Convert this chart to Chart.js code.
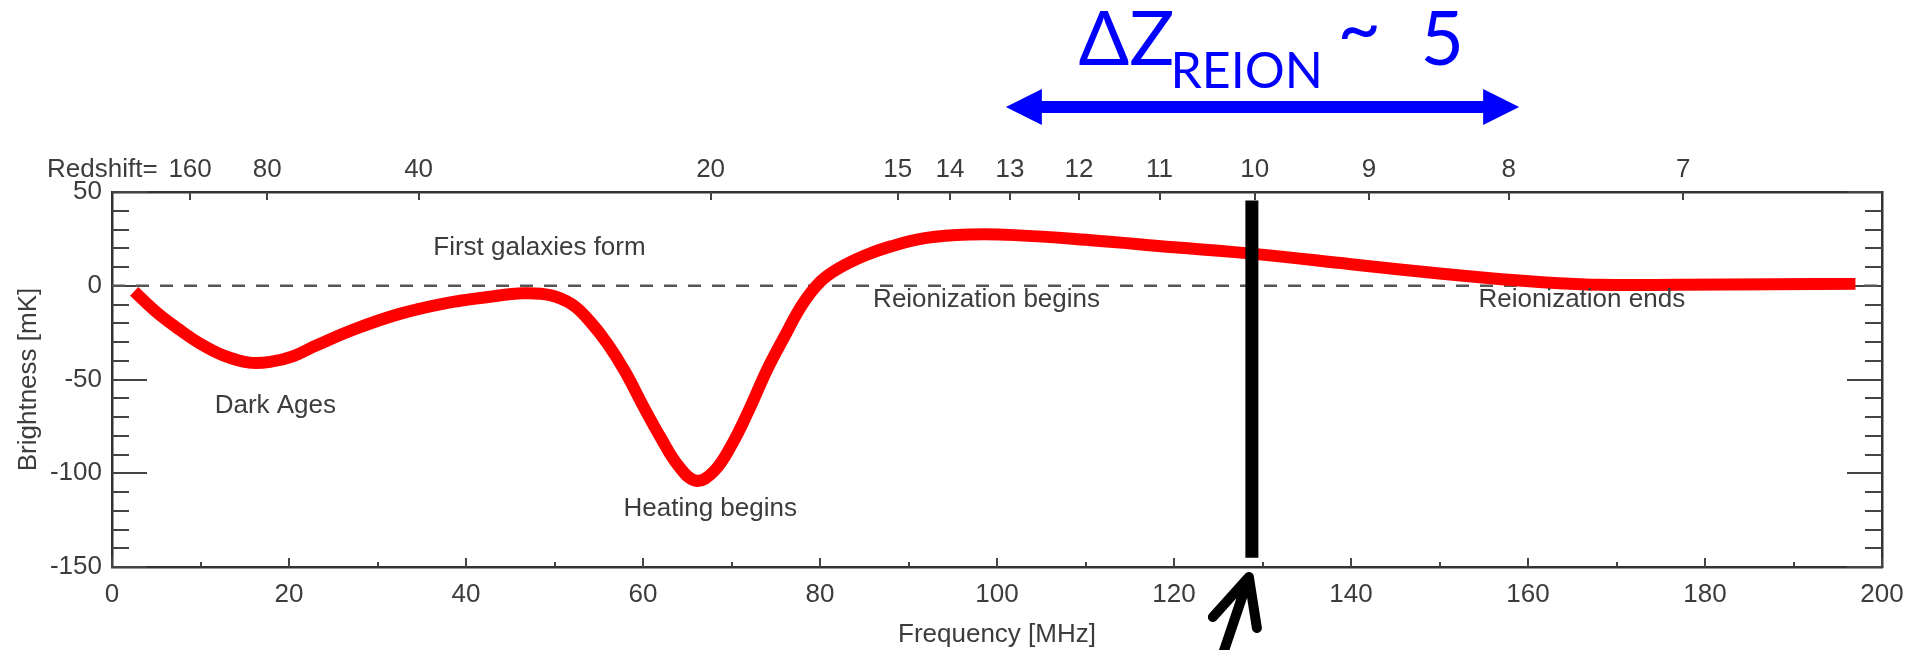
<!DOCTYPE html>
<html>
<head>
<meta charset="utf-8">
<script src="https://cdn.jsdelivr.net/npm/chart.js@4.4.1/dist/chart.umd.min.js"></script>
<style>
  html, body { margin: 0; padding: 0; background: #fff; }
</style>
</head>
<body>
<canvas id="chart" width="1922" height="650"></canvas>
<script>
// 21-cm global signal
const freqMHz = [2.5, 5, 7.5, 10, 12.5, 15.5, 18, 20.5, 23, 27.5, 32.5, 37.5, 42.5, 46.5, 49.5, 52, 54, 56, 58, 60, 62, 64, 66, 68, 70, 72, 74, 76, 78, 80, 82, 85, 88, 92, 97, 102, 110, 120, 129, 140, 150, 157, 163, 168, 177, 188, 197];
const brightness = [-3, -14, -23, -31, -37, -41, -40.5, -37.5, -32, -23, -15, -9.5, -6, -4, -5, -10, -19, -31, -46, -64, -81, -96, -104, -99, -85, -66, -45, -27, -10, 2, 9, 16, 21, 25.5, 27.3, 27, 24.5, 20.5, 17, 11.5, 6.5, 3.5, 1.5, 0.5, 0.5, 0.8, 1];

// top axis labels (redshift), placed at nu = 1420.4 / (1 + z)
const redshiftTicks = [160, 80, 40, 20, 15, 14, 13, 12, 11, 10, 9, 8, 7];

// dashed zero line
const zeroFreq = [0, 200];
const zeroVal = [0, 0];

// black marker near z = 10
const markerFreq = [128.8, 128.8];
const markerVal = [45.5, -145];

// blue double arrow, z = 13 .. 8
const reionFreq = [101, 159];

const notes = [
  { text: 'First galaxies form', f: 36.3, t: 20 },
  { text: 'Dark Ages', f: 11.6, t: -64 },
  { text: 'Heating begins', f: 57.8, t: -119 },
  { text: 'Reionization begins', f: 86, t: -7.5 },
  { text: 'Reionization ends', f: 154.4, t: -7.5 }
];

const FONT = "'Liberation Sans', Arial, sans-serif";
const TXT = '#3c3c3c';
Chart.defaults.font.family = FONT;
Chart.defaults.font.size = 26;
Chart.defaults.color = TXT;

const toPoints = (xs, ys) => xs.map((x, i) => ({ x: x, y: ys[i] }));

// inward tick marks on all four sides
const frameTicks = {
  id: 'frameTicks',
  beforeDatasetsDraw(chart) {
    const { ctx, chartArea: a, scales } = chart;
    ctx.save();
    ctx.strokeStyle = '#444';
    ctx.lineWidth = 2;
    ctx.beginPath();
    for (let v = -150; v <= 50; v += 10) {
      const y = Math.round(scales.y.getPixelForValue(v));
      const len = v % 50 === 0 ? 35 : 17;
      ctx.moveTo(a.left, y); ctx.lineTo(a.left + len, y);
      ctx.moveTo(a.right, y); ctx.lineTo(a.right - len, y);
    }
    for (let v = 0; v <= 200; v += 10) {
      const x = Math.round(scales.x.getPixelForValue(v));
      const len = v % 20 === 0 ? 9 : 5;
      ctx.moveTo(x, a.bottom); ctx.lineTo(x, a.bottom - len);
    }
    scales.x2.ticks.forEach(t => {
      const x = Math.round(scales.x2.getPixelForValue(t.value));
      ctx.moveTo(x, a.top); ctx.lineTo(x, a.top + 8);
    });
    ctx.stroke();
    ctx.restore();
  }
};

// text labels, redshift caption, blue span arrow, black pointer
const annotations = {
  id: 'annotations',
  afterDraw(chart) {
    const { ctx, chartArea: a, scales } = chart;
    const sx = scales.x, sy = scales.y;
    ctx.save();

    ctx.fillStyle = TXT;
    ctx.font = '26px ' + FONT;
    ctx.textBaseline = 'middle';
    ctx.textAlign = 'left';
    notes.forEach(n => ctx.fillText(n.text, sx.getPixelForValue(n.f), sy.getPixelForValue(n.t)));
    ctx.fillText('Redshift=', a.left - 65, a.top - 22);

    // blue double arrow
    const x1 = sx.getPixelForValue(reionFreq[0]);
    const x2 = sx.getPixelForValue(reionFreq[1]);
    const ay = a.top - 85;
    const head = 36, half = 18, shaft = 6;
    ctx.fillStyle = '#0000ff';
    ctx.fillRect(x1 + head - 1, ay - shaft, x2 - x1 - 2 * head + 2, shaft * 2);
    ctx.beginPath();
    ctx.moveTo(x1, ay); ctx.lineTo(x1 + head, ay - half); ctx.lineTo(x1 + head, ay + half); ctx.closePath();
    ctx.moveTo(x2, ay); ctx.lineTo(x2 - head, ay - half); ctx.lineTo(x2 - head, ay + half); ctx.closePath();
    ctx.fill();

    // ΔZ_REION ~ 5
    const c = (x1 + x2) / 2;
    const big = "75px Lato, 'Open Sans', sans-serif";
    ctx.textBaseline = 'alphabetic';
    ctx.font = big;
    ctx.fillText('\u0394Z', c - 184, a.top - 127);
    ctx.font = "50px Lato, 'Open Sans', sans-serif";
    ctx.fillText('REION', c - 92, a.top - 104);
    ctx.font = big;
    ctx.fillText('~', c + 75, a.top - 137);
    ctx.fillText('5', c + 158, a.top - 127);

    // black pointer arrow below the marker
    const px = sx.getPixelForValue(markerFreq[0]);
    const b = a.bottom;
    ctx.strokeStyle = '#000';
    ctx.lineWidth = 10;
    ctx.lineCap = 'round';
    ctx.lineJoin = 'round';
    ctx.beginPath();
    ctx.moveTo(px - 30, b + 90); ctx.lineTo(px - 3, b + 10);
    ctx.moveTo(px - 39, b + 50); ctx.lineTo(px - 3, b + 10); ctx.lineTo(px + 5, b + 61);
    ctx.stroke();

    ctx.restore();
  }
};

new Chart(document.getElementById('chart'), {
  type: 'scatter',
  data: {
    datasets: [
      {
        data: toPoints(markerFreq, markerVal),
        showLine: true,
        borderColor: '#000',
        borderWidth: 13,
        pointRadius: 0
      },
      {
        data: toPoints(freqMHz, brightness),
        showLine: true,
        borderColor: '#ff0000',
        borderWidth: 12,
        tension: 0.4,
        pointRadius: 0
      },
      {
        data: toPoints(zeroFreq, zeroVal),
        showLine: true,
        borderColor: '#555',
        borderWidth: 2.5,
        borderDash: [13, 11],
        pointRadius: 0
      }
    ]
  },
  options: {
    responsive: false,
    animation: false,
    layout: { padding: 0 },
    plugins: { legend: { display: false }, tooltip: { enabled: false } },
    scales: {
      x: {
        type: 'linear',
        position: 'bottom',
        min: 0,
        max: 200,
        ticks: { stepSize: 20, padding: 12, maxRotation: 0, color: TXT },
        grid: { display: false, drawTicks: false },
        border: { display: true, color: '#333', width: 2.5 },
        title: { display: true, text: 'Frequency [MHz]', color: TXT, padding: 0 },
        afterFit: s => { s.height = 83; }
      },
      x2: {
        type: 'linear',
        position: 'top',
        min: 0,
        max: 200,
        afterBuildTicks: s => { s.ticks = redshiftTicks.map(z => ({ value: 1420.4 / (1 + z) })); },
        ticks: {
          autoSkip: false,
          maxRotation: 0,
          padding: 7,
          color: TXT,
          callback: (v, i) => redshiftTicks[i]
        },
        grid: { display: false, drawTicks: false },
        border: { display: true, color: '#333', width: 2.5 },
        afterFit: s => { s.height = 192; }
      },
      y: {
        position: 'left',
        min: -150,
        max: 50,
        ticks: { stepSize: 50, padding: 10, color: TXT },
        grid: { display: false, drawTicks: false },
        border: { display: true, color: '#333', width: 2.5 },
        title: { display: true, text: 'Brightness [mK]', color: TXT, padding: { top: 13, bottom: 0 } },
        afterFit: s => { s.width = 112; }
      },
      y2: {
        position: 'right',
        min: -150,
        max: 50,
        ticks: { display: false },
        grid: { display: false, drawTicks: false },
        border: { display: true, color: '#333', width: 2.5 },
        afterFit: s => { s.width = 40; }
      }
    }
  },
  plugins: [frameTicks, annotations]
});
</script>
</body>
</html>
